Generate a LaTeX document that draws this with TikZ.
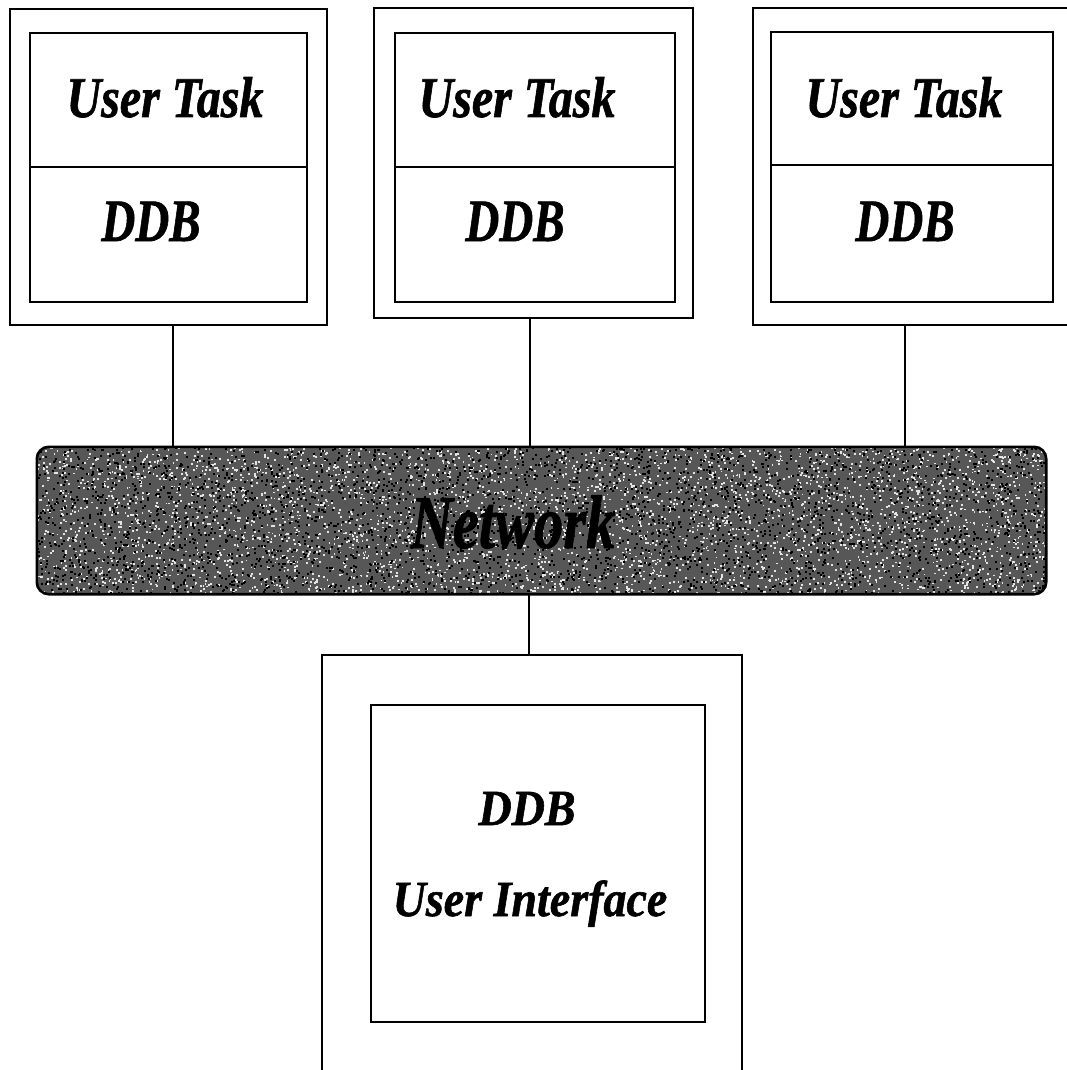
\documentclass[tikz,border=0pt]{standalone}
\usepackage{fontspec}
\usepackage{graphicx}
\setmainfont{Liberation Serif}[BoldItalicFeatures={FakeBold=1.2}]
\usetikzlibrary{fit}
\newcommand{\tall}[2]{\scalebox{1}[#1]{#2}}
\begin{document}
\begin{tikzpicture}[x=1pt,y=-1pt,
  outerbox/.style={draw,line width=2.8pt,inner sep=0pt},
  cellbox/.style={draw,line width=2.4pt,inner sep=0pt},
  conn/.style={line width=2pt},
  lab/.style={font=\fontsize{#1}{#1}\selectfont\bfseries\itshape,inner sep=0pt},
  lab/.default=48]
\useasboundingbox (0,0) rectangle (1067,1070);
% --- top boxes ---
\node[outerbox,fit={(10,9) (327,325)}] (box1) {};
\node[cellbox,fit={(30,33) (307,167)}] (t1) {};
\node[cellbox,fit={(30,167) (307,302)}] (d1) {};
\node[lab,anchor=base] (ut1) at (165,117) {\tall{1.2}{User Task}};
\node[lab=47,anchor=base] (db1) at (151,241) {\tall{1.28}{DDB}};

\node[outerbox,fit={(374,8) (693,318)}] (box2) {};
\node[cellbox,fit={(395,33) (675,167)}] (t2) {};
\node[cellbox,fit={(395,167) (675,302)}] (d2) {};
\node[lab,anchor=base] (ut2) at (517,117) {\tall{1.2}{User Task}};
\node[lab=47,anchor=base] (db2) at (515,241) {\tall{1.28}{DDB}};

\node[outerbox,fit={(753,8) (1075,325)}] (box3) {};
\node[cellbox,fit={(771,32) (1053,165)}] (t3) {};
\node[cellbox,fit={(771,165) (1053,302)}] (d3) {};
\node[lab,anchor=base] (ut3) at (904,117) {\tall{1.2}{User Task}};
\node[lab=47,anchor=base] (db3) at (905,241) {\tall{1.28}{DDB}};

% --- network ---
\node[inner sep=0pt,fit={(37,447) (1046,594)}] (net) {};
\fill[black!66,rounded corners=12pt] (net.north west) rectangle (net.south east);
\begin{scope}
\clip[rounded corners=12pt] (net.north west) rectangle (net.south east);
\pgfmathsetseed{17}
\foreach \i in {1,...,4200}{
  \pgfmathsetmacro\rx{37+rnd*1009}
  \pgfmathsetmacro\ry{447+rnd*147}
  \fill[white!90!black] (\rx,\ry) rectangle ++(1.8,1.8);
}
\foreach \i in {1,...,3400}{
  \pgfmathsetmacro\rx{37+rnd*1009}
  \pgfmathsetmacro\ry{447+rnd*147}
  \fill[black] (\rx,\ry) rectangle ++(2,2);
}
\end{scope}
\draw[line width=2.6pt,rounded corners=12pt] (net.north west) rectangle (net.south east);
\node[lab=58.5,anchor=base,text=black] (nettxt) at (513,548) {\tall{1.3}{Network}};

% --- bottom box ---
\node[outerbox,fit={(322,655) (742,1078)}] (ui) {};
\node[cellbox,fit={(371,705) (705,1022)}] (uiin) {};
\node[lab=46,anchor=base] (uidb) at (527,825) {\tall{1.1}{DDB}};
\node[lab=46,anchor=base] (uiui) at (530,916) {\tall{1.1}{User Interface}};

% --- connectors ---
\coordinate (c1) at (173,325);
\coordinate (c2) at (530,318);
\coordinate (c3) at (905,325);
\coordinate (c4) at (529,655);
\draw[conn] (c1) -- (c1 |- net.north);
\draw[conn] (c2) -- (c2 |- net.north);
\draw[conn] (c3) -- (c3 |- net.north);
\draw[conn] (net.south -| c4) -- (c4);
\end{tikzpicture}
\end{document}
